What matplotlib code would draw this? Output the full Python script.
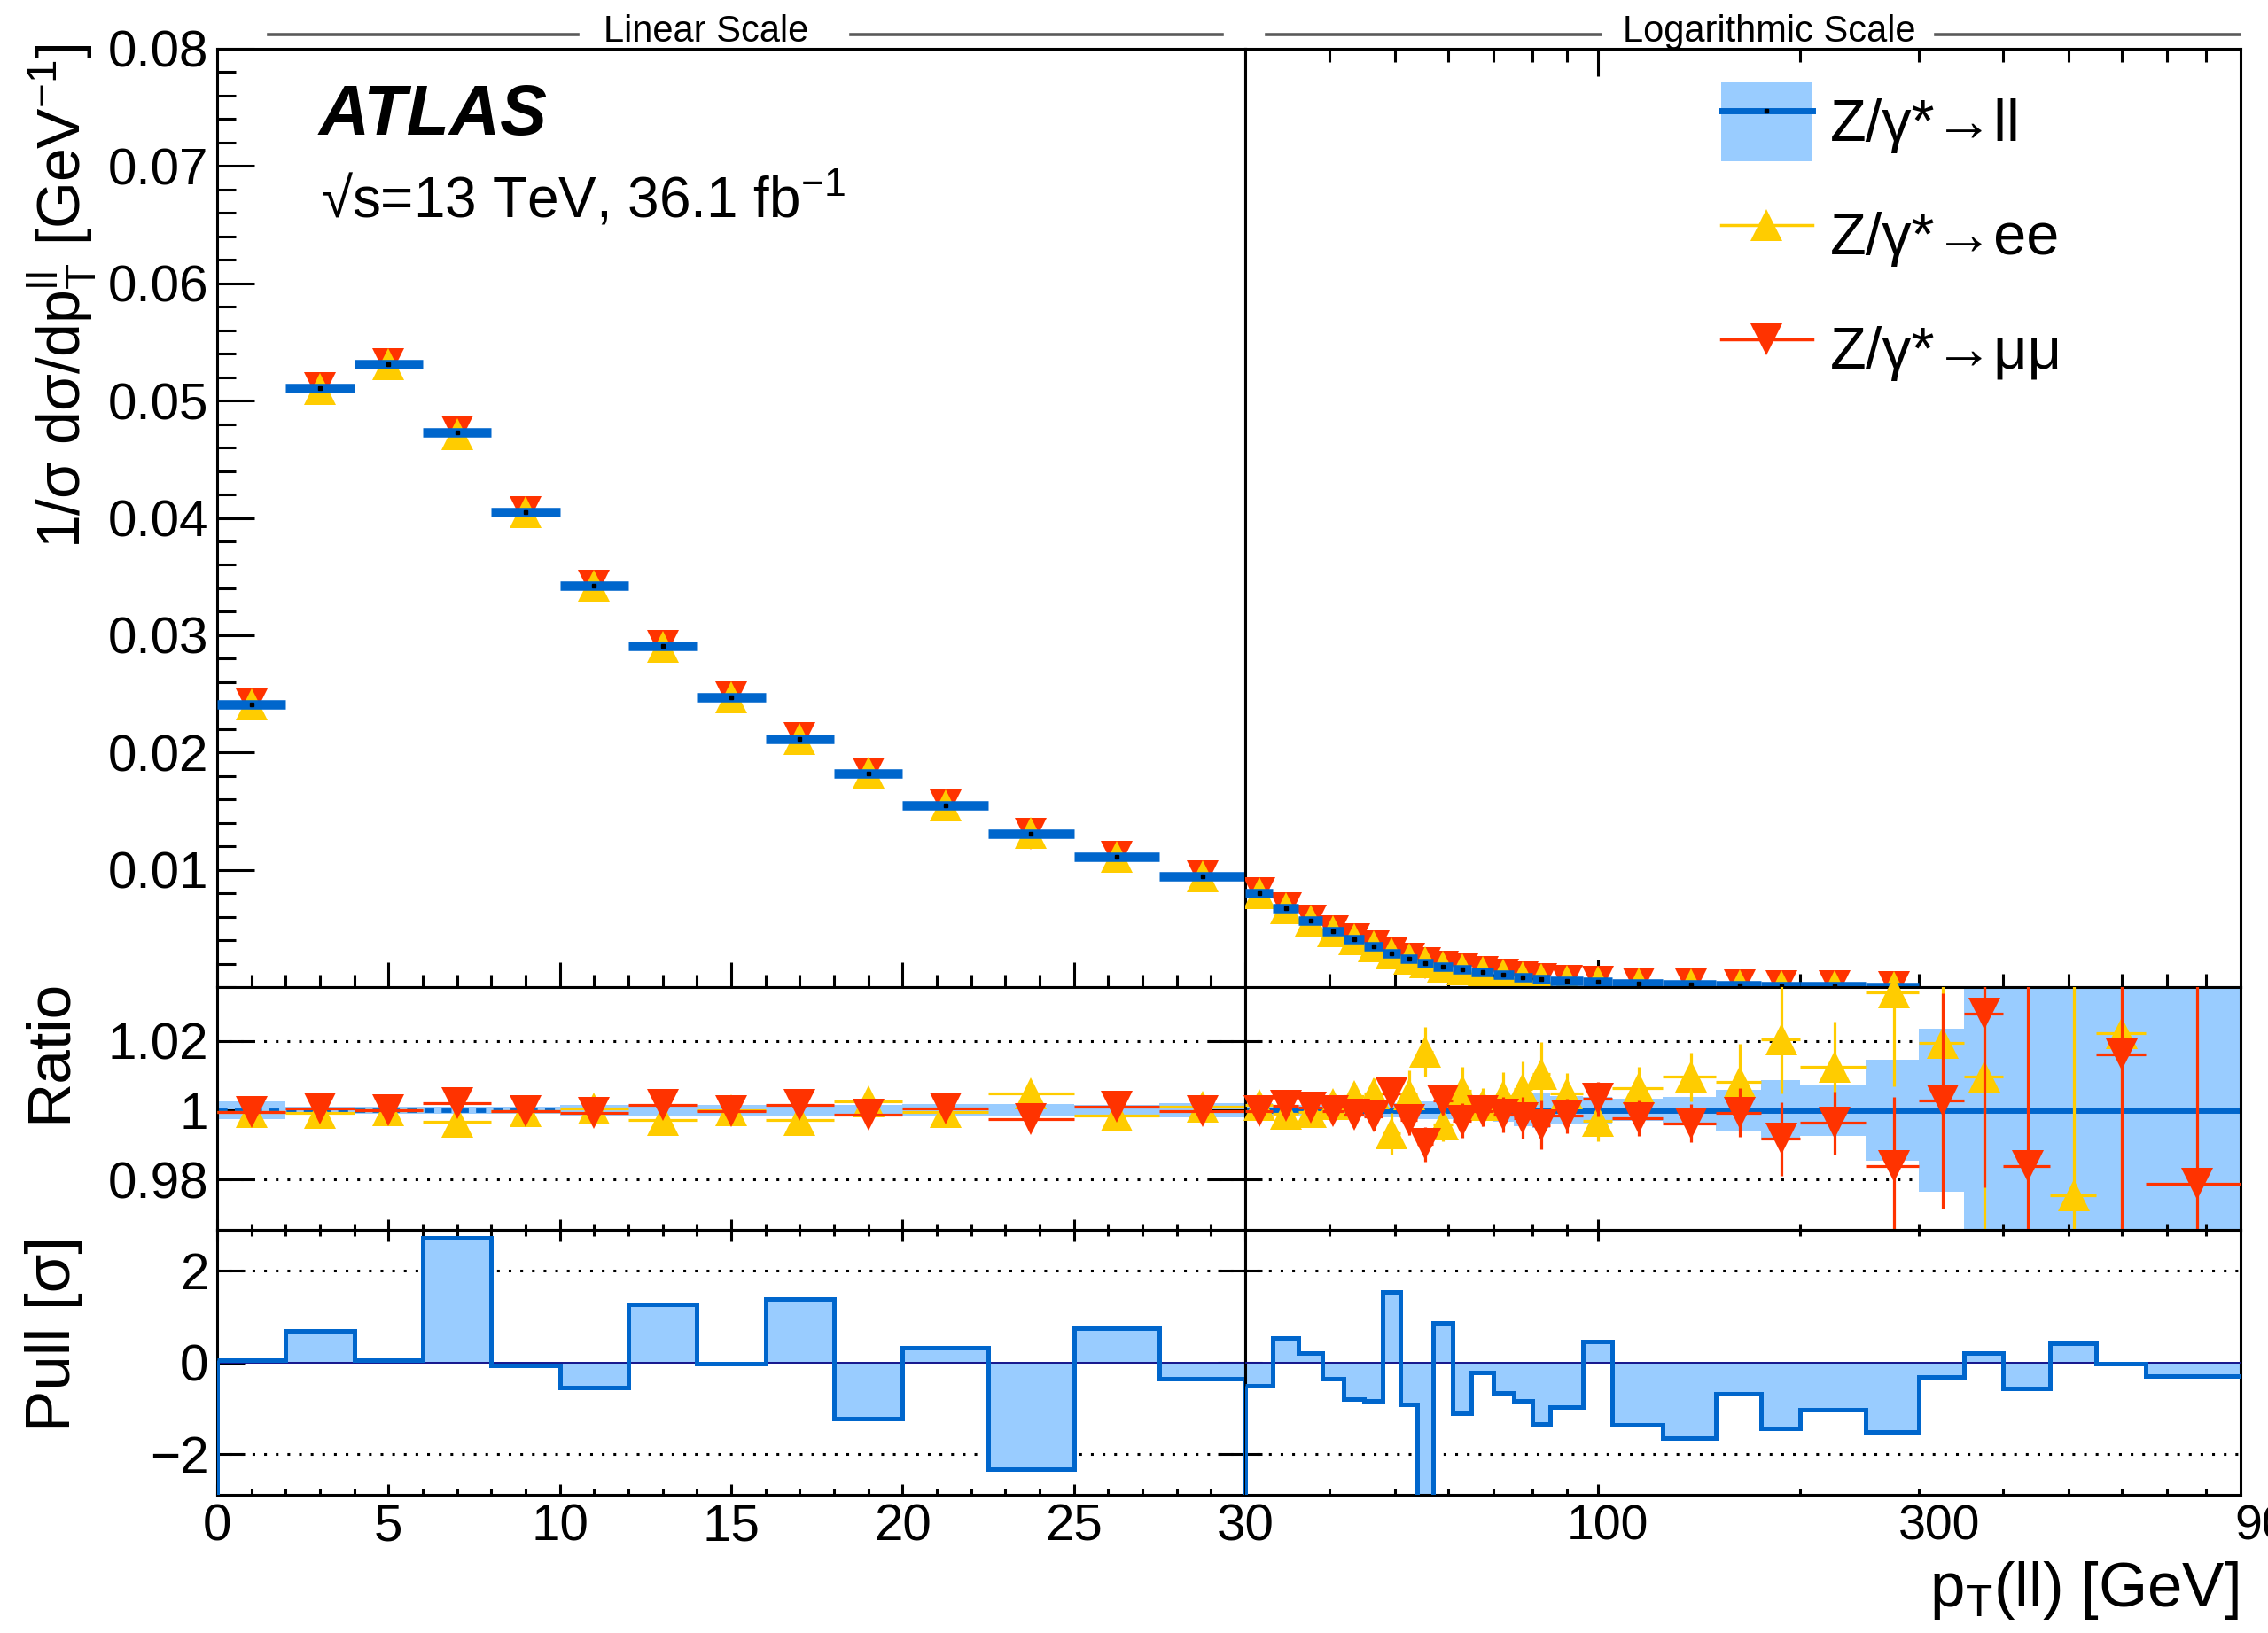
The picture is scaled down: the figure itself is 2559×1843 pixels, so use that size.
import numpy as np
import matplotlib
matplotlib.use("Agg")
import matplotlib.pyplot as plt
import matplotlib.transforms as mtransforms
from matplotlib.lines import Line2D
from matplotlib.patches import Patch
from matplotlib.ticker import MultipleLocator, FixedLocator, NullFormatter, NullLocator

plt.rcParams['font.family'] = ['Liberation Sans', 'DejaVu Sans']
plt.rcParams['mathtext.fontset'] = 'custom'
plt.rcParams['mathtext.rm'] = 'Liberation Sans'
plt.rcParams['mathtext.it'] = 'Liberation Sans:italic'
plt.rcParams['mathtext.bf'] = 'Liberation Sans:bold'

# ---------------- data ----------------
edges_lin = np.array([0, 2, 4, 6, 8, 10, 12, 14, 16, 18, 20, 22.5, 25, 27.5, 30])
edges_log = np.array([30, 33, 36, 39, 42, 45, 48, 51, 54, 57, 61, 65, 70, 75, 80, 85, 95,
                      105, 125, 150, 175, 200, 250, 300, 350, 400, 470, 550, 650, 900])

# 1/sigma dsigma/dpT (combined), linear part and log part up to 300 GeV
xsec_ll_lin = [0.02408, 0.05104, 0.05314, 0.04728, 0.04047, 0.03422, 0.02907,
               0.02470, 0.02118, 0.01822, 0.01551, 0.01308, 0.01111, 0.00947]
xsec_ll_log = [0.00802, 0.00670, 0.00566, 0.00478, 0.00408, 0.00345, 0.00287, 0.00244,
               0.00206, 0.00176, 0.00149, 0.00126, 0.00103, 0.00085, 0.00070, 0.00055,
               0.00043, 0.00031, 0.00020, 0.00013, 0.00009, 0.00006, 0.00003]

# channel / combined ratios
ratio_ee_lin = [0.9996, 0.9992, 1.0000, 0.9966, 0.9997, 1.0006, 0.9971,
                1.0000, 0.9971, 1.0026, 0.9995, 1.0048, 0.9985, 1.0010]
ratio_mm_lin = [0.9995, 1.0006, 1.0000, 1.0020, 0.9997, 0.9992, 1.0014,
                0.9998, 1.0016, 0.9986, 1.0004, 0.9974, 1.0011, 0.9997]
err_ee_lin = [0.0008] * 14
err_mm_lin = [0.0007] * 14
band_lin = [0.0026, 0.0011, 0.0011, 0.0011, 0.0011, 0.0016, 0.0016,
            0.0016, 0.0016, 0.0016, 0.0018, 0.0018, 0.0016, 0.0021]

nan = np.nan
ratio_ee_log = [1.0014, 0.9990, 0.9995, 1.0019, 1.0040, 1.0048, 0.9933, 1.0046, 1.0169,
                0.9960, 1.0057, 1.0014, 1.0040, 1.0061, 1.0104, 1.0048, 0.9970, 1.0065,
                1.0096, 1.0081, 1.0205, 1.0126, 1.0339, 1.0194, 1.0097, nan, 0.9755,
                1.0222, nan]
ratio_mm_log = [0.9997, 1.0013, 1.0007, 0.9998, 0.9986, 0.9981, 1.0049, 0.9973, 0.9902,
                1.0028, 0.9970, 0.9998, 0.9987, 0.9978, 0.9957, 0.9984, 1.0032, 0.9977,
                0.9962, 0.9993, 0.9918, 0.9963, 0.9839, 1.0027, 1.0278, 0.9839, nan,
                1.0160, 0.9789]
err_ee_log = [0.0015, 0.0015, 0.0018, 0.0025, 0.0040, 0.0045, 0.0060, 0.0070, 0.0071,
              0.0050, 0.0068, 0.0050, 0.0070, 0.0080, 0.0093, 0.0060, 0.0060, 0.0060,
              0.0070, 0.0110, 0.0157, 0.0130, 0.0270, 0.0300, 0.0500, nan, 0.0800,
              0.0500, nan]
err_mm_log = [0.0015, 0.0015, 0.0018, 0.0020, 0.0035, 0.0040, 0.0040, 0.0045, 0.0050,
              0.0040, 0.0050, 0.0045, 0.0050, 0.0060, 0.0070, 0.0050, 0.0050, 0.0050,
              0.0055, 0.0070, 0.0106, 0.0090, 0.0200, 0.0310, 0.0500, 0.0600, nan,
              0.0700, 0.0700]
band_log = [0.0020, 0.0016, 0.0016, 0.0016, 0.0018, 0.0020, 0.0020, 0.0024, 0.0025,
            0.0025, 0.0028, 0.0030, 0.0033, 0.0045, 0.0050, 0.0040, 0.0038, 0.0032,
            0.0037, 0.0058, 0.0086, 0.0073, 0.0145, 0.0235, 0.0600, 0.0600, 0.0600,
            0.0600, 0.0600]

# pulls (ee vs mumu compatibility)
pull_lin = [0.05, 0.68, 0.05, 2.73, -0.06, -0.56, 1.27, -0.02, 1.38, -1.23, 0.32,
            -2.33, 0.74, -0.35]
pull_log = [-0.51, 0.53, 0.20, -0.35, -0.80, -0.85, 1.54, -0.93, -3.20, 0.86, -1.11,
            -0.23, -0.67, -0.85, -1.34, -0.98, 0.45, -1.36, -1.65, -0.68, -1.45, -1.03,
            -1.52, -0.32, 0.21, -0.58, 0.42, -0.03, -0.31]

x_ticks_lin = [0, 5, 10, 15, 20, 25, 30]
x_labels_log = [100, 300, 900]

DARK = '#0066cc'
LIGHT = '#99ccff'
YEL = '#ffcc00'
RED = '#ff3300'

# ---------------- layout ----------------
W, H = 2559, 1843
fig = plt.figure(figsize=(W / 100, H / 100), dpi=100)


def px_axes(x0, x1, ytop, ybot):
    return fig.add_axes([x0 / W, 1 - ybot / H, (x1 - x0) / W, (ybot - ytop) / H])


XL, XS, XR = 245, 1405, 2528
YT, YM, YR, YB = 55, 1114, 1388, 1687

ax_ml = px_axes(XL, XS, YT, YM)
ax_mr = px_axes(XS, XR, YT, YM)
ax_rl = px_axes(XL, XS, YM, YR)
ax_rr = px_axes(XS, XR, YM, YR)
ax_pl = px_axes(XL, XS, YR, YB)
ax_pr = px_axes(XS, XR, YR, YB)

MAIN_YLIM = (0, 0.08)
RATIO_YLIM = (0.9655, 1.0355)
PULL_YLIM = (-2.9, 2.9)

for ax in [ax_ml, ax_mr, ax_rl, ax_rr, ax_pl, ax_pr]:
    for s in ax.spines.values():
        s.set_linewidth(2.2)
for ax in [ax_ml, ax_rl, ax_pl]:
    ax.set_xlim(0, 30)
for ax in [ax_mr, ax_rr, ax_pr]:
    ax.set_xscale('log')
    ax.set_xlim(30, 900)
ax_ml.set_ylim(*MAIN_YLIM)
ax_mr.set_ylim(*MAIN_YLIM)
ax_rl.set_ylim(*RATIO_YLIM)
ax_rr.set_ylim(*RATIO_YLIM)
ax_pl.set_ylim(*PULL_YLIM)
ax_pr.set_ylim(*PULL_YLIM)

c_lin = 0.5 * (edges_lin[:-1] + edges_lin[1:])
c_log = 0.5 * (edges_log[:-1] + edges_log[1:])
lo_lin, hi_lin = c_lin - edges_lin[:-1], edges_lin[1:] - c_lin
lo_log, hi_log = c_log - edges_log[:-1], edges_log[1:] - c_log

# ---------------- main panel ----------------
def main_panel(ax, edges, centers, xsec, r_ee, r_mm):
    n = len(xsec)
    xsec = np.asarray(xsec)
    ax.plot(centers[:n], xsec * np.asarray(r_mm[:n]), ls='none', marker='v', ms=26, mew=0,
            color=RED, zorder=3)
    ax.plot(centers[:n], xsec * np.asarray(r_ee[:n]), ls='none', marker='^', ms=26, mew=0,
            color=YEL, zorder=4)
    ax.hlines(xsec, edges[:n], edges[1:n + 1], colors=DARK, lw=7.6, capstyle='butt', zorder=5)
    ax.plot(centers[:n], xsec, ls='none', marker='s', ms=2.2, color='k', zorder=6)


main_panel(ax_ml, edges_lin, c_lin, xsec_ll_lin, ratio_ee_lin, ratio_mm_lin)
main_panel(ax_mr, edges_log, c_log, xsec_ll_log, ratio_ee_log, ratio_mm_log)

# ---------------- ratio panel ----------------
def ratio_points(ax, centers, lo, hi, vals, errs, color, marker, z):
    vals = np.asarray(vals, float)
    ax.errorbar(centers, vals, yerr=errs, xerr=[lo, hi], fmt='none', ecolor=color,
                elinewidth=2.3, capsize=0, zorder=z)
    inside = (vals > RATIO_YLIM[0]) & (vals < RATIO_YLIM[1] + 0.001)
    ax.plot(centers[inside], vals[inside], ls='none', marker=marker, ms=26, mew=0,
            color=color, clip_on=False, zorder=z + 0.5)


for ax, edges, centers, lo, hi, band, ree, rmm, eee, emm in [
        (ax_rl, edges_lin, c_lin, lo_lin, hi_lin, band_lin, ratio_ee_lin, ratio_mm_lin,
         err_ee_lin, err_mm_lin),
        (ax_rr, edges_log, c_log, lo_log, hi_log, band_log, ratio_ee_log, ratio_mm_log,
         err_ee_log, err_mm_log)]:
    for yv in (0.98, 1.02):
        ax.axhline(yv, color='k', lw=2.2, ls=(0, (1, 3.3)), zorder=1)
    band = np.asarray(band)
    ax.stairs(1 + band, edges, baseline=1 - band, fill=True, color=LIGHT, lw=0, zorder=1.5)
    ratio_points(ax, centers, lo, hi, ree, eee, YEL, '^', 3)
    ratio_points(ax, centers, lo, hi, rmm, emm, RED, 'v', 5)

# combined (ll/ll = 1) central line
ax_rr.hlines(1, edges_log[0], edges_log[-1], colors=DARK, lw=5, zorder=2)
ax_rl.hlines(1, edges_lin[0], edges_lin[5], colors=DARK, lw=3.5, linestyles=(0, (2.3, 1.7)),
             zorder=2)

# ---------------- pull panel ----------------
def pull_panel(ax, edges, vals, close_right):
    vals = np.asarray(vals)
    for yv in (-2, 2):
        ax.axhline(yv, color='k', lw=2.2, ls=(0, (1, 3.3)), zorder=1)
    ax.stairs(vals, edges, baseline=0, fill=True, color=LIGHT, lw=0, zorder=2)
    ax.axhline(0, color='#14148c', lw=1.4, zorder=3)
    ax.stairs(vals, edges, baseline=None, color=DARK, lw=3.6, zorder=4, joinstyle='miter')
    ax.vlines(edges[0], PULL_YLIM[0], vals[0], colors=DARK, lw=3.6, zorder=4)
    if close_right:
        ax.vlines(edges[-1], PULL_YLIM[0], vals[-1], colors=DARK, lw=3.6, zorder=4)


pull_panel(ax_pl, edges_lin, pull_lin, True)
pull_panel(ax_pr, edges_log, pull_log, False)

# ---------------- ticks ----------------
TL = 42
ax_ml.set_yticks(np.arange(1, 9) * 0.01)
ax_ml.set_yticklabels(['0.01', '0.02', '0.03', '0.04', '0.05', '0.06', '0.07', '0.08'])
ax_ml.yaxis.set_minor_locator(MultipleLocator(0.002))
ax_ml.tick_params(axis='y', which='major', direction='in', length=30, width=2.2,
                  labelsize=TL, pad=7, left=True, right=False)
ax_ml.tick_params(axis='y', which='minor', direction='in', length=15, width=2.2,
                  left=True, right=False)

for ax in [ax_ml, ax_rl, ax_pl]:
    ax.set_xticks(x_ticks_lin)
    ax.xaxis.set_minor_locator(MultipleLocator(1))

ax_ml.tick_params(axis='x', which='major', direction='in', length=20, width=2.2,
                  labelbottom=False, top=False)
ax_ml.tick_params(axis='x', which='minor', direction='in', length=10, width=2.2, top=False)

ax_rl.set_yticks([0.98, 1.0, 1.02])
ax_rl.set_yticklabels(['0.98', '1', '1.02'])
ax_rl.tick_params(axis='y', direction='in', length=30, width=2.2, labelsize=TL, pad=7,
                  left=True, right=True)
ax_rl.tick_params(axis='x', which='major', direction='in', length=9, width=2.2,
                  labelbottom=False, top=False)
ax_rl.tick_params(axis='x', which='minor', direction='in', length=5, width=2.2, top=False)

ax_pl.set_yticks([-2, 0, 2])
ax_pl.set_yticklabels(['\u22122', '0', '2'])
ax_pl.tick_params(axis='y', direction='in', length=22, width=2.2, labelsize=TL, pad=7,
                  left=True, right=True)
ax_pl.tick_params(axis='x', which='major', direction='in', length=9, width=2.2,
                  labelsize=TL, pad=7, top=True)
ax_pl.tick_params(axis='x', which='minor', direction='in', length=5, width=2.2, top=True)

log_major = [100]
log_minor = [40, 50, 60, 70, 80, 90, 200, 300, 400, 500, 600, 700, 800]
for ax in [ax_mr, ax_rr, ax_pr]:
    ax.xaxis.set_major_locator(FixedLocator(log_major))
    ax.xaxis.set_minor_locator(FixedLocator(log_minor))
    ax.xaxis.set_major_formatter(NullFormatter())
    ax.xaxis.set_minor_formatter(NullFormatter())

ax_mr.yaxis.set_major_locator(NullLocator())
ax_mr.yaxis.set_minor_locator(NullLocator())
ax_mr.tick_params(axis='x', which='major', direction='in', length=22, width=2.2, top=True)
ax_mr.tick_params(axis='x', which='minor', direction='in', length=11, width=2.2, top=True)

ax_rr.set_yticks([0.98, 1.0, 1.02])
ax_rr.tick_params(axis='y', direction='in', length=14, width=2.2, labelleft=False,
                  left=True, right=False)
ax_rr.tick_params(axis='x', which='major', direction='in', length=9, width=2.2, top=False)
ax_rr.tick_params(axis='x', which='minor', direction='in', length=5, width=2.2, top=False)

ax_pr.set_yticks([-2, 0, 2])
ax_pr.tick_params(axis='y', direction='in', length=14, width=2.2, labelleft=False,
                  left=True, right=False)
ax_pr.tick_params(axis='x', which='major', direction='in', length=9, width=2.2, top=True)
ax_pr.tick_params(axis='x', which='minor', direction='in', length=5, width=2.2, top=True)

# log axis labels (sit a little right of their ticks, as in the original; 900 runs off the edge)
for v, dx in zip(x_labels_log, [11, 23, 40]):
    tr = mtransforms.blended_transform_factory(ax_pr.transData, ax_pr.transAxes) + \
        mtransforms.ScaledTranslation(dx / 100, -10 / 100, fig.dpi_scale_trans)
    ax_pr.text(v, 0, str(v), transform=tr, ha='center', va='top', fontsize=40, clip_on=False)

# ---------------- texts ----------------
def fx(p):
    return p / W


def fy(p):
    return 1 - p / H


fig.text(fx(70), fy(49), r'1/σ dσ/dp$_{\mathrm{T}}^{\mathrm{ll}}$ [GeV$^{-1}$]', rotation=90,
         ha='center', va='top', fontsize=49)
fig.text(fx(56), fy(1105), 'Ratio', rotation=90, ha='center', va='top', fontsize=50)
fig.text(fx(61), fy(1505), 'Pull [σ]', rotation=90, ha='center', va='center', fontsize=51)
fig.text(fx(2526), fy(1813), r'p$_{\mathrm{T}}$(ll) [GeV]', ha='right', va='baseline',
         fontsize=51)

fig.text(fx(360), fy(152), 'ATLAS', fontsize=57, fontweight='bold', fontstyle='italic',
         va='baseline')
fig.text(fx(362), fy(245), '√s=13 TeV, 36.1 fb$^{-1}$', fontsize=46, va='baseline')

GREY = '#5a5a5a'
fig.text(fx(797), fy(47), 'Linear Scale', ha='center', va='baseline', fontsize=30)
fig.text(fx(1996), fy(47), 'Logarithmic Scale', ha='center', va='baseline', fontsize=30)
for x0, x1 in [(303, 652), (960, 1379), (1429, 1806), (2184, 2527)]:
    fig.add_artist(Line2D([fx(x0), fx(x1)], [fy(39), fy(39)], color=GREY, lw=2.6,
                          transform=fig.transFigure))

# ---------------- legend ----------------
h_ll = (Patch(facecolor=LIGHT, edgecolor='none'),
        Line2D([], [], color=DARK, lw=5),
        Line2D([], [], ls='none', marker='s', ms=2.2, color='k'))
h_ee = Line2D([], [], color=YEL, lw=2.5, marker='^', ms=26, mew=0)
h_mm = Line2D([], [], color=RED, lw=2.5, marker='v', ms=26, mew=0)
ax_mr.legend([h_ll, h_ee, h_mm], ['Z/γ*→ll', 'Z/γ*→ee', 'Z/γ*→μμ'],
             loc='upper left', bbox_to_anchor=(0.478, 0.965), frameon=False, fontsize=48,
             handlelength=1.55, handleheight=1.7, handletextpad=0.3, labelspacing=0.58,
             borderpad=0, borderaxespad=0)

fig.savefig('out.png', dpi=100)
